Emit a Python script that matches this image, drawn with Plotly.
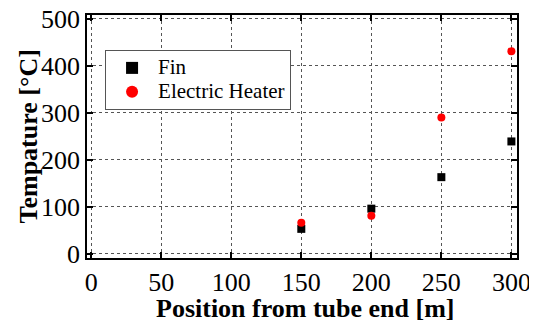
import plotly.graph_objects as go

positions = [150, 200, 250, 300]
fin_temp = [53, 96, 163, 239]
heater_temp = [66, 81, 290, 431]
x_ticks = [0, 50, 100, 150, 200, 250, 300]
y_ticks = [0, 100, 200, 300, 400, 500]
series_names = ["Fin", "Electric Heater"]
x_title = "<b>Position from tube end [m]</b>"
y_title = "<b>Tempature [°C]</b>"

font_family = "Liberation Serif"

def legend_label(name):
    return '<span style="font-size:21px">' + name + "</span>"

fig = go.Figure()
fig.add_trace(go.Scatter(x=positions, y=fin_temp, mode="markers", name=legend_label(series_names[0]),
                         marker=dict(symbol="square", size=8, color="black")))
fig.add_trace(go.Scatter(x=positions, y=heater_temp, mode="markers", name=legend_label(series_names[1]),
                         marker=dict(symbol="circle", size=8, color="#ff0000")))

axis_common = dict(
    showline=True, linecolor="black", linewidth=1.5, mirror="ticks",
    ticks="inside", ticklen=6, tickwidth=1.5, tickcolor="black",
    showgrid=True, gridcolor="#555555", griddash="dot", gridwidth=1,
    zeroline=False, automargin=False, ticklabeloverflow="allow",
    tickfont=dict(family=font_family, size=26, color="black"),
)

# page body has an 8px default margin, so the figure is sized/offset to compensate
fig.update_layout(
    width=529, height=317,
    margin=dict(l=79, r=20, t=7, b=67),
    paper_bgcolor="white", plot_bgcolor="white",
    font=dict(family=font_family, color="black"),
    xaxis=dict(range=[-3, 304], tickvals=x_ticks, **axis_common),
    yaxis=dict(range=[-9, 508], tickvals=y_ticks, **axis_common),
    legend=dict(x=0.042, y=0.856, xanchor="left", yanchor="top",
                bgcolor="white", bordercolor="#555555", borderwidth=1,
                font=dict(family=font_family, size=16, color="black"),
                tracegroupgap=0, itemsizing="constant", itemwidth=42),
    showlegend=True,
    annotations=[
        dict(text=x_title, xref="paper", yref="paper", x=0.507, y=0,
             xanchor="center", yanchor="middle", yshift=-50, showarrow=False,
             font=dict(family=font_family, size=26, color="black")),
        dict(text=y_title, xref="paper", yref="paper", x=0, y=0.5,
             xanchor="center", yanchor="middle", xshift=-59, textangle=-90,
             showarrow=False, font=dict(family=font_family, size=26, color="black")),
    ],
)

fig.write_html("out.html")
